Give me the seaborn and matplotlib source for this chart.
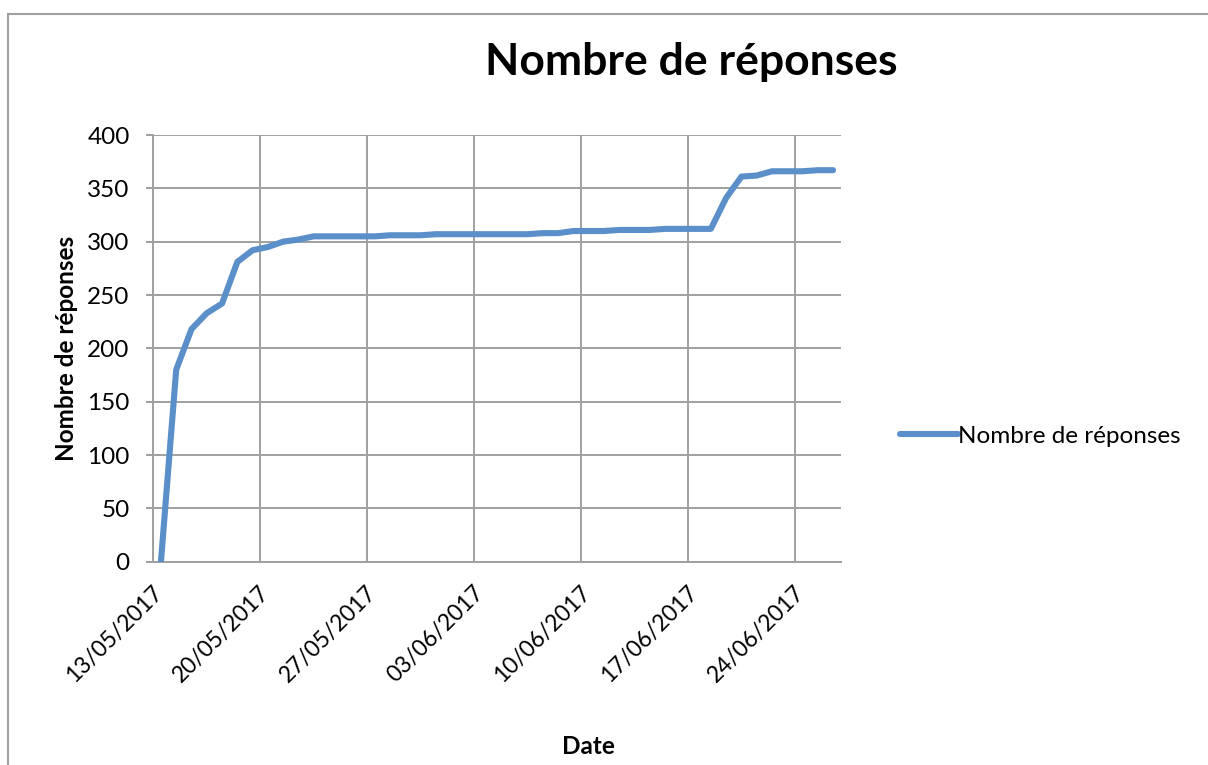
import pandas as pd
import numpy as np
import matplotlib
matplotlib.use('Agg')
import matplotlib.pyplot as plt
import matplotlib.dates as mdates
import matplotlib.transforms as mtransforms
from matplotlib.lines import Line2D
import seaborn as sns

# daily cumulative answers, 13/05/2017 -> 26/06/2017
start = '2017-05-13'
reponses = [0, 180, 218, 233, 242, 281, 292, 295, 300, 302,
            305, 305, 305, 305, 305, 306, 306, 306, 307, 307,
            307, 307, 307, 307, 307, 308, 308, 310, 310, 310,
            311, 311, 311, 312, 312, 312, 312, 341, 361, 362,
            366, 366, 366, 367, 367]
tick_dates = ['13/05/2017', '20/05/2017', '27/05/2017', '03/06/2017',
              '10/06/2017', '17/06/2017', '24/06/2017']
y_ticks = [0, 50, 100, 150, 200, 250, 300, 350, 400]

dates = pd.date_range(start, periods=len(reponses), freq='D')
df = pd.DataFrame({'Date': dates + pd.Timedelta(hours=12),
                   'Nombre de réponses': reponses})

sns.set_theme(style="white")
plt.rcParams['font.family'] = ['Lato', 'DejaVu Sans']
plt.rcParams['text.color'] = 'black'
plt.rcParams['axes.labelcolor'] = 'black'

W, H = 1208, 765
fs = 17.5
fig = plt.figure(figsize=(W / 100, H / 100), dpi=100)
ax = fig.add_axes([153.3 / W, 1 - 561.7 / H, 687.4 / W, 426.7 / H])

grid_c = '#a0a0a0'
sns.lineplot(data=df, x='Date', y='Nombre de réponses', ax=ax,
             color='#5b8fc9', linewidth=4.4, label='Nombre de réponses',
             solid_capstyle='round', solid_joinstyle='round', zorder=3)

ax.set_ylim(0, 400)
ax.set_xlim(pd.Timestamp(start), pd.Timestamp('2017-06-27'))
ax.set_yticks(y_ticks)
ax.set_xticks(pd.to_datetime(tick_dates, format='%d/%m/%Y'))
ax.xaxis.set_major_formatter(mdates.DateFormatter('%d/%m/%Y'))

ax.grid(True, color=grid_c, linewidth=1.4)
for s in ['top', 'right']:
    ax.spines[s].set_visible(False)
for s in ['left', 'bottom']:
    ax.spines[s].set_color(grid_c)
    ax.spines[s].set_linewidth(1.4)

ax.tick_params(axis='y', left=True, length=5, width=1.4, color=grid_c,
               pad=12, labelsize=fs, labelcolor='black')
ax.tick_params(axis='x', bottom=False, pad=14, labelsize=16.5, labelcolor='black')
offset = mtransforms.ScaledTranslation(6 / 100, 0, fig.dpi_scale_trans)
for lab in ax.get_xticklabels():
    lab.set_rotation(45)
    lab.set_ha('right')
    lab.set_va('center')
    lab.set_rotation_mode('anchor')
    lab.set_transform(lab.get_transform() + offset)

ax.set_xlabel('')
ax.set_ylabel('Nombre de réponses', fontsize=fs, fontweight='bold')
ax.yaxis.set_label_coords((78 - 153.3) / 687.4, 0.5)

fig.text(588 / W, 1 - 746 / H, 'Date', fontsize=fs, fontweight='bold',
         ha='center', va='center')
fig.text(691.5 / W, 1 - 75 / H, 'Nombre de réponses', fontsize=32,
         fontweight='bold', ha='center', va='baseline')

leg = ax.legend(loc='center left', bbox_to_anchor=(900 / W, 1 - 436 / H),
                bbox_transform=fig.transFigure, frameon=False, fontsize=fs,
                handlelength=2.4, handletextpad=0.0, borderpad=0,
                borderaxespad=0)

# chart area border (cut by the screenshot on right and bottom)
fig.add_artist(Line2D([8 / W, 1], [1 - 14 / H, 1 - 14 / H], color=grid_c, lw=1.5))
fig.add_artist(Line2D([8 / W, 8 / W], [0, 1 - 14 / H], color=grid_c, lw=1.5))

fig.savefig('out.png', dpi=100)
